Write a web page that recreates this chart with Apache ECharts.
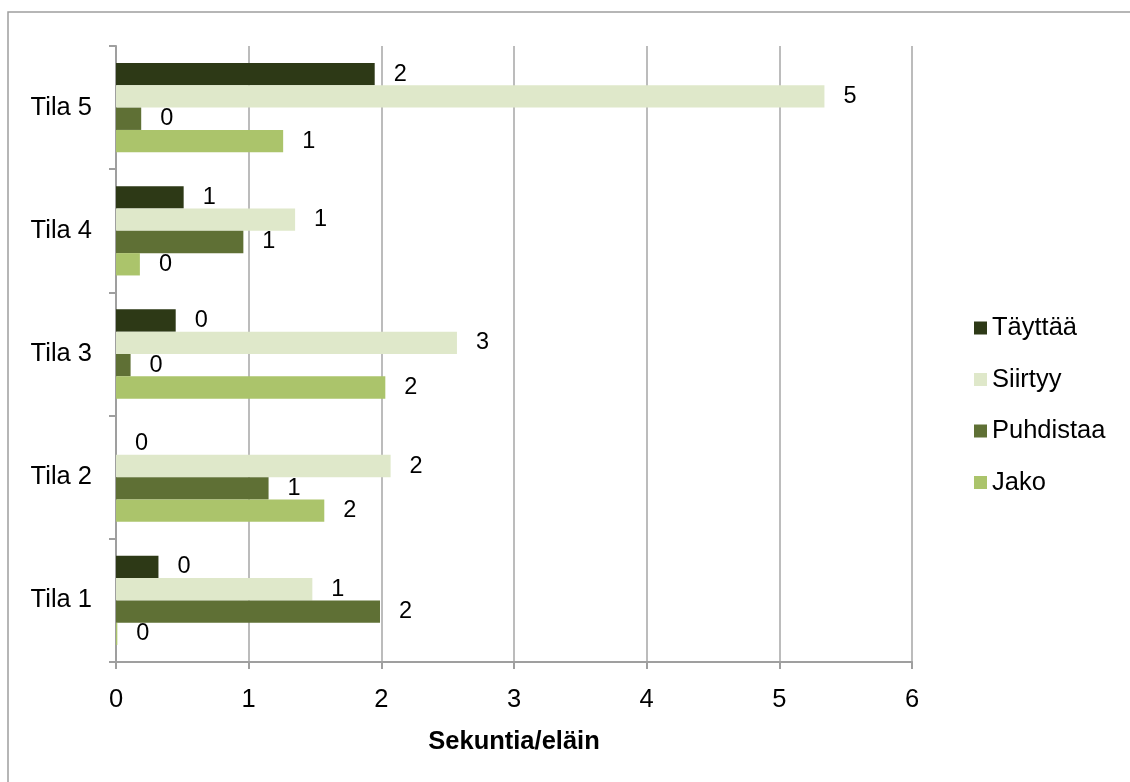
<!DOCTYPE html>
<html>
<head>
<meta charset="utf-8">
<script src="https://cdn.jsdelivr.net/npm/echarts@6/dist/echarts.min.js"></script>
<style>
  html, body { margin: 0; padding: 0; background: #fff; }
  #chart { width: 1130px; height: 782px; }
</style>
</head>
<body>
<div id="chart"></div>
<script>
// Categories (bottom to top) and seconds per animal for each activity
const categories = ['Tila 1', 'Tila 2', 'Tila 3', 'Tila 4', 'Tila 5'];
const seriesNames = ['Täyttää', 'Siirtyy', 'Puhdistaa', 'Jako'];
const tayttaa   = [0.32, 0.00, 0.45, 0.51, 1.95];
const siirtyy   = [1.48, 2.07, 2.57, 1.35, 5.34];
const puhdistaa = [1.99, 1.15, 0.11, 0.96, 0.19];
const jako      = [0.01, 1.57, 2.03, 0.18, 1.26];
const xTicks = [0, 1, 2, 3, 4, 5, 6];

const colors = ['#2d3916', '#dfe8ca', '#5f7035', '#abc46b'];
const values = [tayttaa, siirtyy, puhdistaa, jako];
const FONT = "'Liberation Sans', Arial, sans-serif";

const chart = echarts.init(document.getElementById('chart'), null, { renderer: 'canvas' });

const series = seriesNames.map((name, i) => ({
  name: name,
  type: 'bar',
  data: values[i],
  itemStyle: { color: colors[i] },
  barGap: '0%',
  barCategoryGap: '27.5%',
  label: {
    show: true,
    position: 'right',
    distance: 19,
    color: '#000',
    fontFamily: FONT,
    fontSize: 23.5,
    formatter: p => String(Math.round(p.value))
  },
  emphasis: { disabled: true }
}));

chart.setOption({
  animation: false,
  backgroundColor: '#fff',
  textStyle: { fontFamily: FONT },
  graphic: [{
    type: 'rect',
    shape: { x: 8, y: 12, width: 1300, height: 900 },
    style: { fill: 'none', stroke: '#9f9f9f', lineWidth: 1.5 },
    silent: true
  }],
  grid: { left: 116, right: 218, top: 46, bottom: 120, containLabel: false },
  legend: {
    orient: 'vertical',
    left: 969,
    top: 308,
    itemWidth: 13,
    itemHeight: 13,
    itemGap: 21.5,
    icon: 'rect',
    data: seriesNames,
    textStyle: { fontFamily: FONT, fontSize: 25.5, color: '#000', lineHeight: 30 }
  },
  xAxis: {
    type: 'value',
    min: xTicks[0],
    max: xTicks[xTicks.length - 1],
    interval: 1,
    name: 'Sekuntia/eläin',
    nameLocation: 'middle',
    nameGap: 67,
    nameTextStyle: { fontFamily: FONT, fontSize: 25.5, fontWeight: 'bold', color: '#000' },
    axisLine: { show: true, lineStyle: { color: '#9f9f9f', width: 2 } },
    axisTick: { show: true, length: 7, lineStyle: { color: '#9f9f9f', width: 2 } },
    axisLabel: { fontFamily: FONT, fontSize: 25.5, color: '#000', margin: 25 },
    splitLine: { show: true, lineStyle: { color: '#a6a6a6', width: 1.5 } }
  },
  yAxis: {
    type: 'category',
    data: categories,
    axisLine: { show: true, lineStyle: { color: '#9f9f9f', width: 2 } },
    axisTick: { show: true, length: 7, lineStyle: { color: '#9f9f9f', width: 2 } },
    axisLabel: { fontFamily: FONT, fontSize: 25.5, color: '#000', margin: 24 },
    splitLine: { show: false }
  },
  series: series
});
</script>
</body>
</html>
